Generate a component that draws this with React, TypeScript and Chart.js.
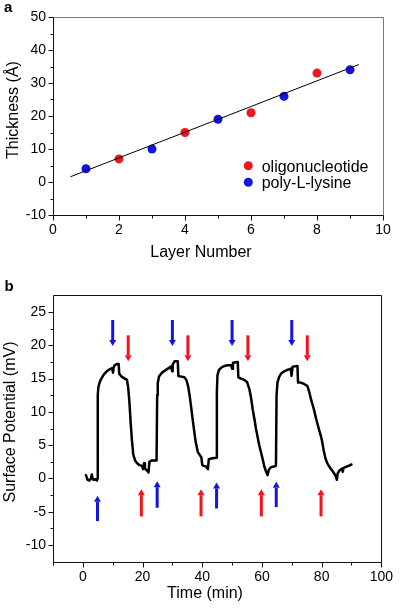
import React, { useEffect, useRef } from "react";
import { Chart, registerables } from "chart.js";
Chart.register(...registerables);

const FONT = "'Liberation Sans', Arial, Helvetica, sans-serif";

// ---------- Panel a data ----------
const oligoLayer = [2, 4, 6, 8];
const oligoThickness = [7, 15, 21, 33];
const plLayer = [1, 3, 5, 7, 9];
const plThickness = [4, 10, 19, 26, 34];
const fitLayer = [0.53, 9.27];
const fitThickness = [1.6, 35.6];

const aYMajor = [-10, 0, 10, 20, 30, 40, 50];
const aYMinor = [-5, 5, 15, 25, 35, 45];
const aXMajor = [0, 2, 4, 6, 8, 10];
const aXMinor = [1, 3, 5, 7, 9];

// ---------- Panel b data ----------
const timeMin = [
  1.0, 1.3, 1.6, 2.2, 2.7, 3.0, 3.2, 3.5, 4.0, 4.7, 4.9,
  5.0, 5.2, 5.6, 6.2, 7.0, 8.0, 9.0, 9.8, 10.1, 10.3, 10.6, 11.5, 12.0, 12.2, 13.0, 14.0, 14.8,
  15.2, 15.6, 16.0, 16.4, 16.9, 17.5, 18.2, 19.0, 19.8, 20.2, 20.5, 20.8, 21.5, 22.0, 22.3, 23.0, 24.0, 24.7,
  24.9, 25.1, 25.5, 26.5, 27.5, 28.5, 29.5, 29.9, 30.1, 30.7, 31.8, 32.0, 33.0, 34.0, 34.7,
  35.3, 35.8, 36.4, 36.9, 37.4, 37.8, 38.5, 39.2, 39.7, 40.0, 40.5, 41.3, 41.9, 42.2, 43.0, 44.7,
  44.9, 45.1, 45.6, 46.5, 47.5, 48.5, 49.7, 50.0, 50.3, 51.9, 52.1, 53.0, 54.1, 55.0,
  55.8, 56.4, 56.9, 57.5, 58.0, 58.6, 59.1, 59.7, 60.2, 60.8, 61.4, 61.9, 62.3, 63.0, 64.0, 64.7,
  64.9, 65.2, 65.8, 66.5, 67.5, 68.5, 69.7, 69.9, 70.3, 71.9, 72.1, 73.0, 74.1, 75.2,
  75.8, 76.5, 77.4, 78.2, 79.1, 79.8, 80.2, 80.7, 81.3, 82.0, 83.0, 84.0, 84.7, 85.1, 85.4,
  86.0, 86.9, 87.1, 87.3, 88.0, 89.0, 90.0,
];
const potential = [
  0.5, 0.2, -0.2, -0.3, 0.0, 0.6, 0.1, -0.2, -0.1, -0.3, 0.0,
  12.5, 13.7, 14.4, 15.0, 15.6, 16.1, 16.4, 16.6, 15.9, 16.6, 17.0, 17.2, 17.2, 15.7, 15.3, 15.0, 14.8,
  13.6, 11.5, 8.5, 6.0, 3.6, 2.7, 2.3, 2.0, 1.9, 1.4, 2.3, 1.5, 1.2, 0.9, 2.5, 2.7, 2.7, 2.7,
  12.5, 14.3, 15.3, 15.9, 16.2, 16.5, 16.8, 16.1, 17.1, 17.6, 17.6, 15.4, 15.3, 15.2, 14.8,
  13.8, 12.4, 10.3, 8.5, 6.8, 5.5, 4.0, 3.5, 3.2, 2.0, 1.9, 1.8, 1.4, 2.9, 3.0, 3.1,
  13.0, 15.5, 16.3, 16.7, 16.9, 17.0, 17.0, 16.5, 17.4, 17.5, 15.2, 15.0, 14.8, 14.5,
  13.4, 12.0, 10.4, 8.9, 7.5, 6.1, 5.0, 3.9, 3.0, 1.8, 1.0, 0.5, 1.3, 1.7, 1.8, 1.9,
  12.5, 14.4, 15.3, 15.8, 16.1, 16.3, 16.5, 15.4, 16.8, 16.9, 14.4, 14.4, 14.2, 13.9,
  13.1, 11.8, 10.4, 8.9, 7.4, 6.3, 5.5, 4.2, 3.0, 2.2, 1.5, 0.9, 0.4, -0.2, 0.8,
  1.2, 1.5, 1.0, 1.6, 1.7, 1.9, 2.1,
];

const bYMajor = [-10, -5, 0, 5, 10, 15, 20, 25];
const bYMinor = [-7.5, -2.5, 2.5, 7.5, 12.5, 17.5, 22.5];
const bXMajor = [0, 20, 40, 60, 80, 100];
const bXMinor = [-10, 10, 30, 50, 70, 90];

// arrows (time, tail value, tip value)
const blueDownX = [10, 30, 50, 70];
const blueDownTail = [23.8, 23.8, 23.8, 23.8];
const blueDownTip = [19.9, 19.9, 19.9, 19.9];
const redDownX = [15.2, 35.2, 55.3, 75.2];
const redDownTail = [21.5, 21.5, 21.5, 21.5];
const redDownTip = [17.6, 17.6, 17.6, 17.6];
const blueUpX = [4.9, 24.9, 44.8, 64.8];
const blueUpTail = [-6.4, -4.4, -4.5, -4.3];
const blueUpTip = [-2.6, -0.4, -0.6, -0.5];
const redUpX = [19.6, 39.6, 59.8, 79.8];
const redUpTail = [-5.7, -5.7, -5.7, -5.7];
const redUpTip = [-1.6, -1.6, -1.6, -1.6];

const RED = "#f0141c";
const BLUE = "#1414e0";

function px(v: number) {
  return Math.round(v) + 0.5;
}

function drawTicks(ctx: CanvasRenderingContext2D, chart: any, xMaj: number[], xMin: number[], yMaj: number[], yMin: number[]) {
  const { left, bottom } = chart.chartArea;
  const xs = chart.scales.x;
  const ys = chart.scales.y;
  ctx.save();
  ctx.strokeStyle = "#111";
  ctx.lineWidth = 1;
  ctx.beginPath();
  const lx = px(left);
  const by = px(bottom);
  yMaj.forEach((v) => {
    const y = px(ys.getPixelForValue(v));
    ctx.moveTo(lx - 5, y);
    ctx.lineTo(lx, y);
  });
  yMin.forEach((v) => {
    const y = px(ys.getPixelForValue(v));
    ctx.moveTo(lx - 3, y);
    ctx.lineTo(lx, y);
  });
  xMaj.forEach((v) => {
    const x = px(xs.getPixelForValue(v));
    ctx.moveTo(x, by);
    ctx.lineTo(x, by + 5);
  });
  xMin.forEach((v) => {
    const x = px(xs.getPixelForValue(v));
    ctx.moveTo(x, by);
    ctx.lineTo(x, by + 3);
  });
  ctx.stroke();
  ctx.restore();
}

function drawFrame(ctx: CanvasRenderingContext2D, chart: any, topColor: string) {
  const { left, right, top, bottom } = chart.chartArea;
  ctx.save();
  ctx.lineWidth = 1;
  ctx.strokeStyle = topColor;
  ctx.beginPath();
  ctx.moveTo(px(left), px(top));
  ctx.lineTo(px(right), px(top));
  ctx.lineTo(px(right), px(bottom));
  ctx.stroke();
  ctx.strokeStyle = "#111";
  ctx.beginPath();
  ctx.moveTo(px(left), px(top));
  ctx.lineTo(px(left), px(bottom));
  ctx.lineTo(px(right), px(bottom));
  ctx.stroke();
  ctx.restore();
}

function text(ctx: CanvasRenderingContext2D, s: string, x: number, y: number, font: string, align: CanvasTextAlign = "left", rot = 0) {
  ctx.save();
  ctx.fillStyle = "#000";
  ctx.font = font;
  ctx.textAlign = align;
  ctx.textBaseline = "alphabetic";
  ctx.translate(x, y);
  if (rot) ctx.rotate(rot);
  ctx.fillText(s, 0, 0);
  ctx.restore();
}

function arrow(ctx: CanvasRenderingContext2D, x: number, yTail: number, yTip: number, color: string) {
  const dir = Math.sign(yTip - yTail);
  const head = 6;
  ctx.save();
  ctx.strokeStyle = color;
  ctx.fillStyle = color;
  ctx.lineWidth = 3;
  ctx.beginPath();
  ctx.moveTo(x, yTail);
  ctx.lineTo(x, yTip - dir * head);
  ctx.stroke();
  ctx.beginPath();
  ctx.moveTo(x - 3.5, yTip - dir * head);
  ctx.lineTo(x + 3.5, yTip - dir * head);
  ctx.lineTo(x, yTip);
  ctx.closePath();
  ctx.fill();
  ctx.restore();
}

const tickFont = { family: FONT, size: 14 };

const panelAPlugin = {
  id: "panelA",
  afterDraw(chart: any) {
    const ctx = chart.ctx as CanvasRenderingContext2D;
    drawFrame(ctx, chart, "#777");
    drawTicks(ctx, chart, aXMajor, aXMinor, aYMajor, aYMinor);
    text(ctx, "a", 4, 11.7, `bold 15px ${FONT}`);
    text(ctx, "Layer Number", 201, 256.5, `16px ${FONT}`, "center");
    text(ctx, "Thickness (Å)", 17.5, 110, `16px ${FONT}`, "center", -Math.PI / 2);
    // legend
    ctx.save();
    ctx.fillStyle = RED;
    ctx.beginPath();
    ctx.arc(248.3, 165.7, 4.5, 0, Math.PI * 2);
    ctx.fill();
    ctx.fillStyle = BLUE;
    ctx.beginPath();
    ctx.arc(248.3, 182.3, 4.5, 0, Math.PI * 2);
    ctx.fill();
    ctx.restore();
    text(ctx, "oligonucleotide", 261.7, 171.5, `16px ${FONT}`);
    text(ctx, "poly-L-lysine", 261.7, 188.2, `16px ${FONT}`);
  },
};

const panelBPlugin = {
  id: "panelB",
  afterDraw(chart: any) {
    const ctx = chart.ctx as CanvasRenderingContext2D;
    const xs = chart.scales.x;
    const ys = chart.scales.y;
    drawFrame(ctx, chart, "#111");
    drawTicks(ctx, chart, bXMajor, bXMinor, bYMajor, bYMinor);
    const draw = (xsArr: number[], tails: number[], tips: number[], color: string) => {
      xsArr.forEach((t, i) => {
        arrow(ctx, xs.getPixelForValue(t), ys.getPixelForValue(tails[i]), ys.getPixelForValue(tips[i]), color);
      });
    };
    draw(blueDownX, blueDownTail, blueDownTip, BLUE);
    draw(redDownX, redDownTail, redDownTip, RED);
    draw(blueUpX, blueUpTail, blueUpTip, BLUE);
    draw(redUpX, redUpTail, redUpTip, RED);
    text(ctx, "b", 4.5, 11, `bold 15px ${FONT}`);
    text(ctx, "Time (min)", 205, 317.5, `16px ${FONT}`, "center");
    text(ctx, "Surface Potential (mV)", 15, 142, `16px ${FONT}`, "center", -Math.PI / 2);
  },
};

function makeAxis(min: number, max: number, ticks: number[], fit: (s: any) => void, padding: number) {
  return {
    type: "linear" as const,
    min,
    max,
    grid: { display: false, drawTicks: false },
    border: { display: false },
    ticks: {
      padding,
      font: tickFont,
      color: "#000",
      maxRotation: 0,
      autoSkip: false,
      callback: (v: any) => String(v),
    },
    afterBuildTicks: (s: any) => {
      s.ticks = ticks.map((v) => ({ value: v }));
    },
    afterFit: fit,
  };
}

export default function App() {
  const r1 = useRef<HTMLCanvasElement>(null);
  const r2 = useRef<HTMLCanvasElement>(null);

  useEffect(() => {
    const c1 = new Chart(r1.current as HTMLCanvasElement, {
      type: "scatter",
      data: {
        datasets: [
          {
            data: fitLayer.map((x, i) => ({ x, y: fitThickness[i] })),
            showLine: true,
            borderColor: "#000",
            borderWidth: 1,
            pointRadius: 0,
          },
          {
            label: "oligonucleotide",
            data: oligoLayer.map((x, i) => ({ x, y: oligoThickness[i] })),
            backgroundColor: RED,
            borderWidth: 0,
            pointRadius: 4.5,
          },
          {
            label: "poly-L-lysine",
            data: plLayer.map((x, i) => ({ x, y: plThickness[i] })),
            backgroundColor: BLUE,
            borderWidth: 0,
            pointRadius: 4.5,
          },
        ],
      },
      options: {
        animation: false,
        responsive: false,
        devicePixelRatio: 1,
        layout: { padding: { left: 0, right: 17, top: 17, bottom: 0 } },
        plugins: { legend: { display: false }, tooltip: { enabled: false } },
        scales: {
          x: makeAxis(0, 10, aXMajor, (s: any) => { s.height = 65; }, 7),
          y: makeAxis(-10, 50, aYMajor, (s: any) => { s.width = 53; }, 7),
        },
      } as any,
      plugins: [panelAPlugin],
    });

    const c2 = new Chart(r2.current as HTMLCanvasElement, {
      type: "scatter",
      data: {
        datasets: [
          {
            data: timeMin.map((x, i) => ({ x, y: potential[i] })),
            showLine: true,
            borderColor: "#000",
            borderWidth: 2.5,
            borderJoinStyle: "round",
            borderCapStyle: "round",
            pointRadius: 0,
            tension: 0,
          },
        ],
      },
      options: {
        animation: false,
        responsive: false,
        devicePixelRatio: 1,
        layout: { padding: { left: 0, right: 17, top: 12.3, bottom: 0 } },
        plugins: { legend: { display: false }, tooltip: { enabled: false } },
        scales: {
          x: makeAxis(-10, 100, bXMajor, (s: any) => { s.height = 47.3; }, 7),
          y: makeAxis(-12.5, 27.5, bYMajor, (s: any) => { s.width = 53; }, 7),
        },
      } as any,
      plugins: [panelBPlugin],
    });

    return () => {
      c1.destroy();
      c2.destroy();
    };
  }, []);

  return (
    <div style={{ position: "absolute", left: 0, top: 0, width: 400, height: 609, background: "#fff" }}>
      <canvas ref={r1} width={400} height={280} style={{ position: "absolute", left: 0, top: 0, width: 400, height: 280 }} />
      <canvas ref={r2} width={400} height={329} style={{ position: "absolute", left: 0, top: 280, width: 400, height: 329 }} />
    </div>
  );
}
